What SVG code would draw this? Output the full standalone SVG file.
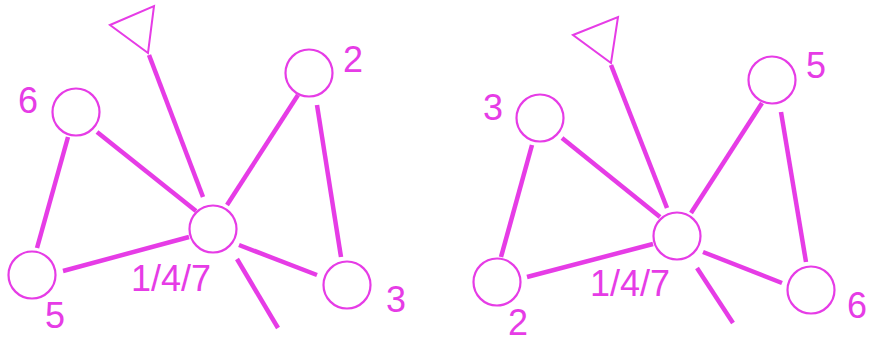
<svg xmlns="http://www.w3.org/2000/svg" width="871" height="339" viewBox="0 0 871 339">
<style>
.n{fill:none;stroke:#e63ce6;stroke-width:2.2}
.t{fill:none;stroke:#e63ce6;stroke-width:2}
.e{stroke:#e63ce6;stroke-width:4.5;stroke-linecap:butt}
.l{font-family:"Liberation Sans",Arial,sans-serif;font-size:36px;fill:#e63ce6}
</style>
<rect width="871" height="339" fill="#fff"/>
<g id="connectors">
<line class="e" x1="149" y1="55" x2="203" y2="197"/>
<line class="e" x1="97" y1="132" x2="196" y2="211"/>
<line class="e" x1="68" y1="137" x2="37" y2="248"/>
<line class="e" x1="63" y1="271" x2="189" y2="237"/>
<line class="e" x1="227" y1="205" x2="298" y2="95"/>
<line class="e" x1="317" y1="105" x2="341" y2="257"/>
<line class="e" x1="239" y1="245" x2="317" y2="275"/>
<line class="e" x1="237" y1="259" x2="278" y2="328"/>
<line class="e" x1="611" y1="65" x2="667" y2="208"/>
<line class="e" x1="562" y1="138" x2="660" y2="217"/>
<line class="e" x1="532" y1="145" x2="501" y2="257"/>
<line class="e" x1="527" y1="277" x2="653" y2="244"/>
<line class="e" x1="691" y1="213" x2="762" y2="103"/>
<line class="e" x1="781" y1="112" x2="806" y2="262"/>
<line class="e" x1="703" y1="252" x2="782" y2="283"/>
<line class="e" x1="697" y1="268" x2="733" y2="323"/>
</g>
<g id="left-antenna"><polygon class="t" points="110,25 154,6 148,53"/></g>
<g id="left-hub"><circle class="n" cx="213" cy="229" r="23.5"/><text class="l" x="131" y="291">1/4/7</text></g>
<g id="left-6"><circle class="n" cx="76" cy="112" r="23.5"/><text class="l" x="18" y="113">6</text></g>
<g id="left-2"><circle class="n" cx="309" cy="73" r="23.5"/><text class="l" x="343" y="72">2</text></g>
<g id="left-5"><circle class="n" cx="32" cy="275" r="23.5"/><text class="l" x="45" y="328">5</text></g>
<g id="left-3"><circle class="n" cx="347" cy="285" r="23.5"/><text class="l" x="386" y="312">3</text></g>
<g id="right-antenna"><polygon class="t" points="573,35 618,17 611,63"/></g>
<g id="right-hub"><circle class="n" cx="677" cy="236" r="23.5"/><text class="l" x="590" y="296">1/4/7</text></g>
<g id="right-3"><circle class="n" cx="540" cy="118" r="23.5"/><text class="l" x="483" y="120">3</text></g>
<g id="right-5"><circle class="n" cx="772" cy="80" r="23.5"/><text class="l" x="806" y="78">5</text></g>
<g id="right-2"><circle class="n" cx="497" cy="282" r="23.5"/><text class="l" x="508" y="335">2</text></g>
<g id="right-6"><circle class="n" cx="811" cy="290" r="23.5"/><text class="l" x="847" y="318">6</text></g>
</svg>
